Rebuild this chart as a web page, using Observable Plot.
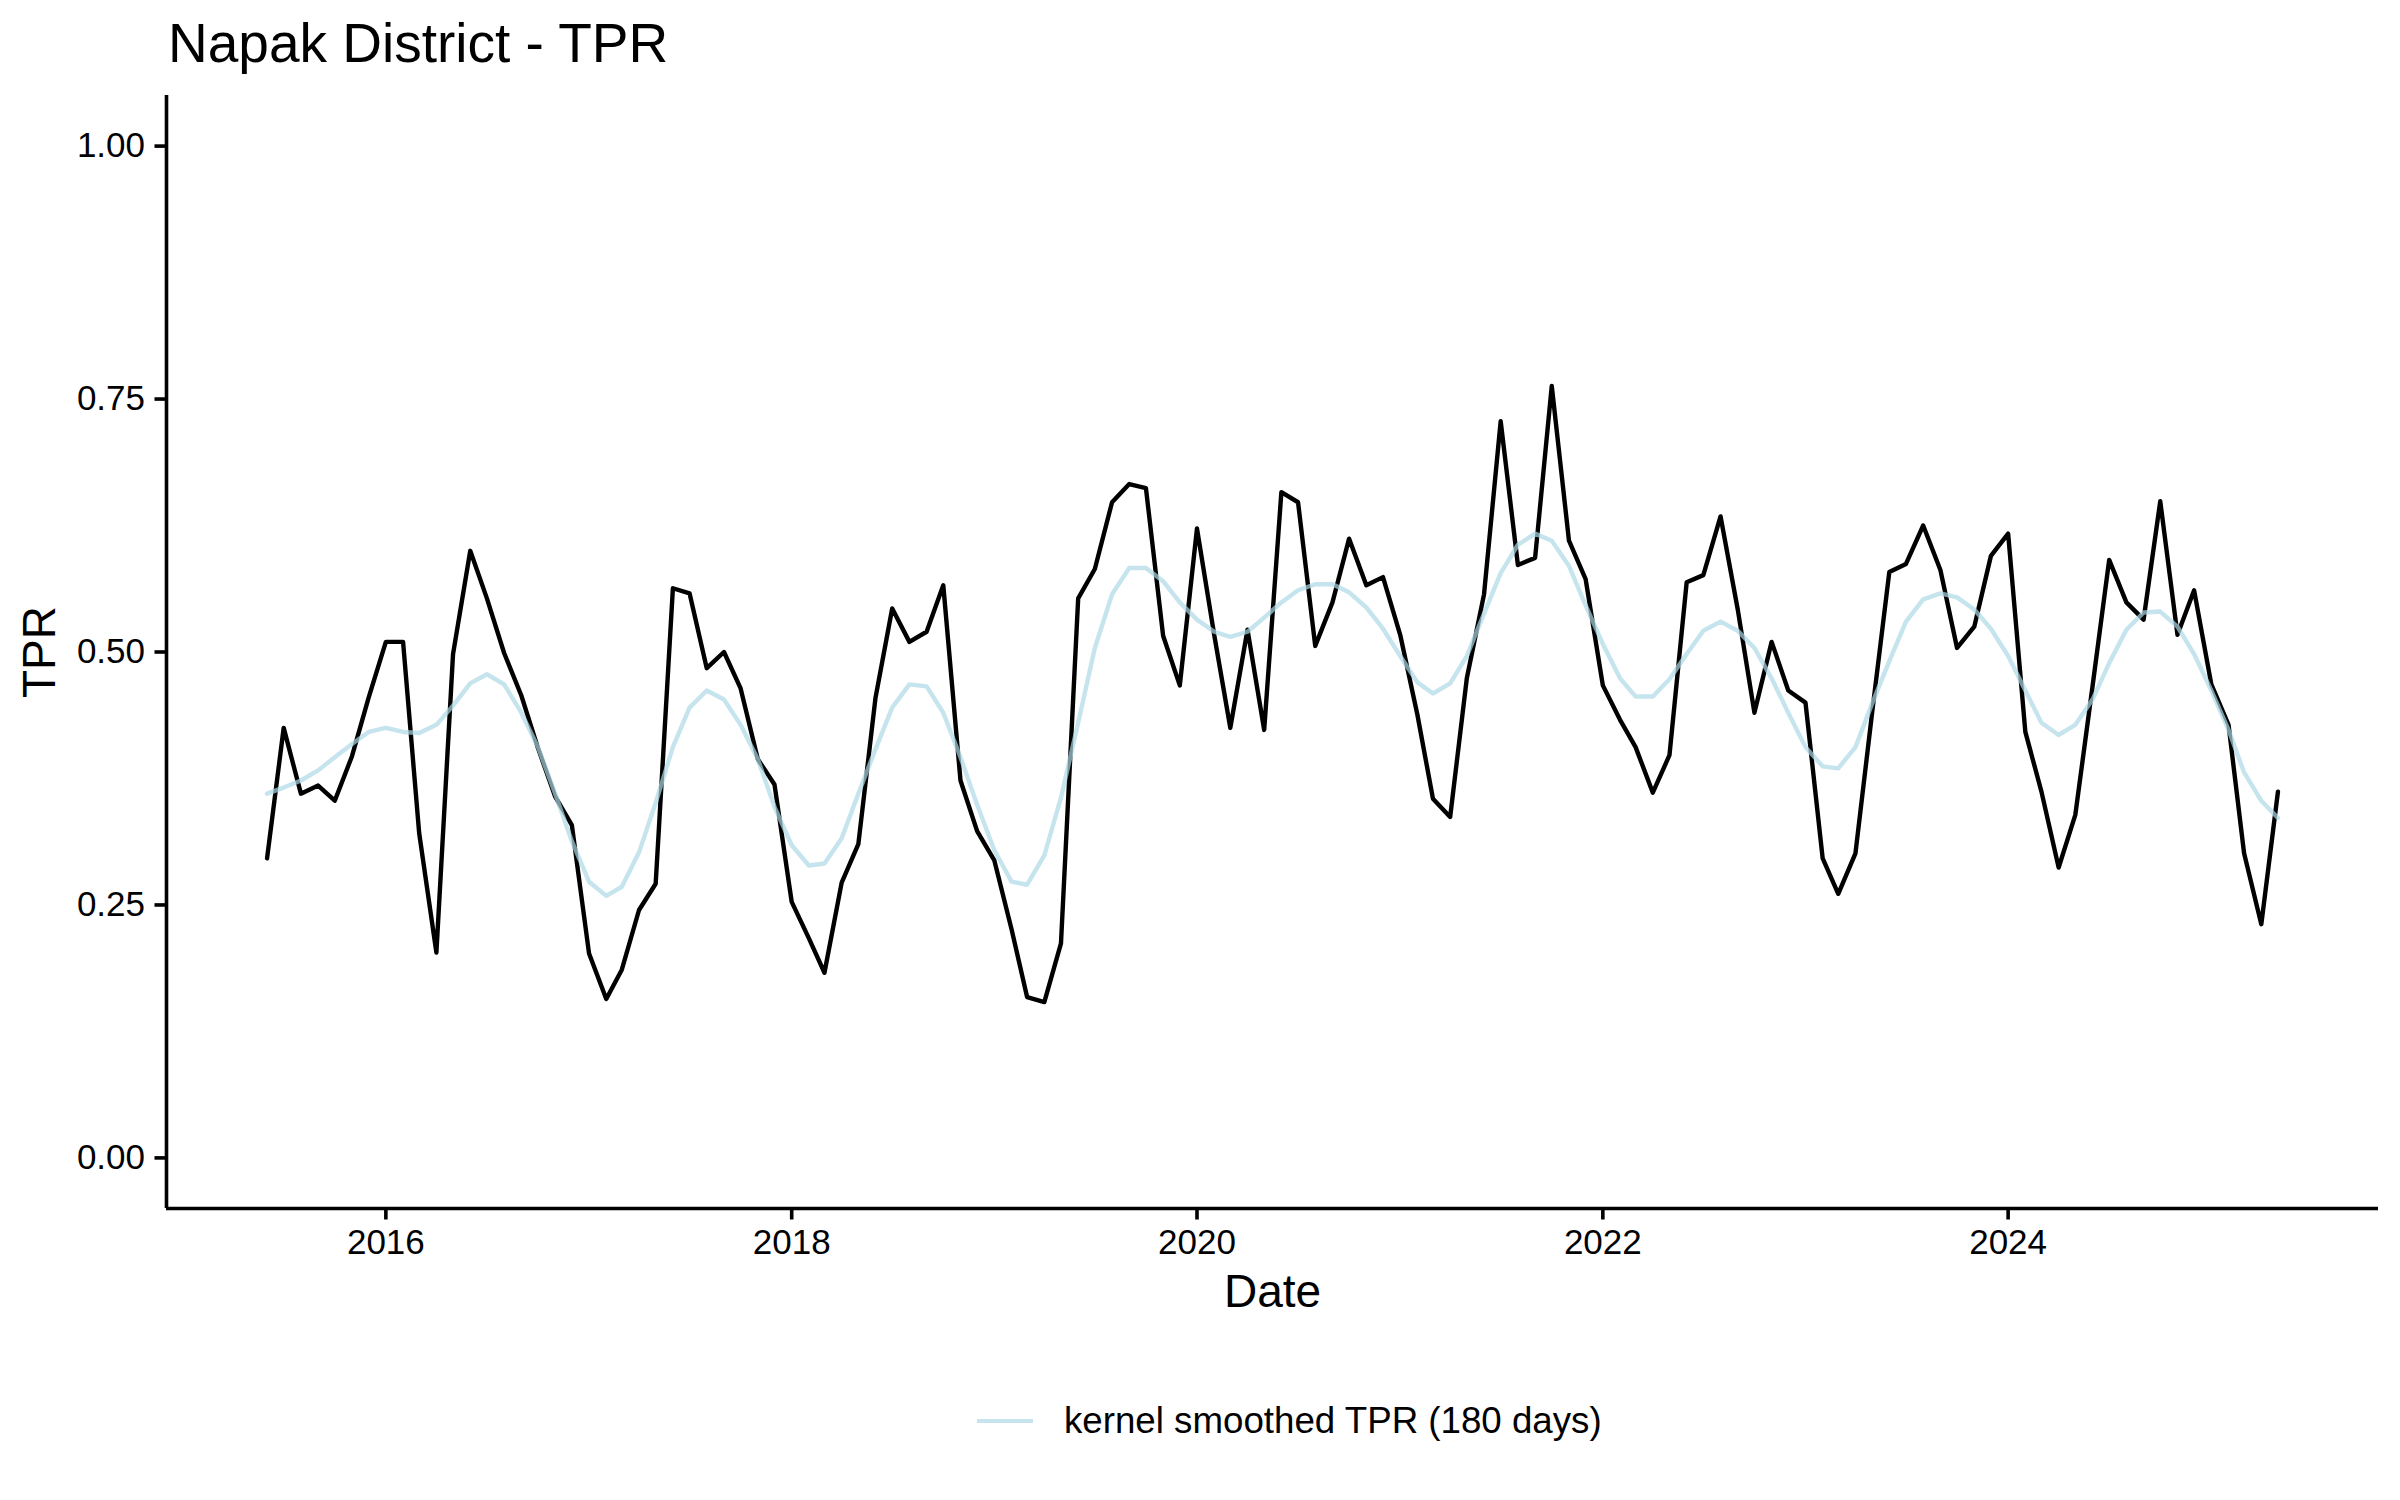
<!DOCTYPE html>
<html>
<head>
<meta charset="utf-8">
<script src="https://cdn.jsdelivr.net/npm/d3@7"></script>
<script src="https://cdn.jsdelivr.net/npm/@observablehq/plot@0.6"></script>
<style>
  body { margin: 0; background: #fff; font-family: "Liberation Sans", Arial, Helvetica, sans-serif; }
  #wrap { position: relative; width: 2400px; height: 1500px; background: #fff; }
  #title { position: absolute; left: 168px; top: 16px; font-size: 55px; line-height: 1; color: #000; white-space: nowrap; }
  #chart { position: absolute; left: 0; top: 80px; }
  #legend { position: absolute; left: 977px; top: 1395px; height: 52px; display: flex; align-items: center; }
  #legend .key { display: inline-block; width: 56px; height: 4px; background: #ADD8E6; opacity: 0.7; }
  #legend .lab { margin-left: 31px; font-size: 36.7px; color: #000; white-space: nowrap; }
</style>
</head>
<body>
<div id="wrap">
  <div id="title"></div>
  <div id="chart"></div>
  <div id="legend"><span class="key"></span><span class="lab"></span></div>
</div>
<script>
// ---- data ----
const titleText = "Napak District - TPR";
const xLabel = "Date";
const yLabel = "TPR";
const legendLabel = "kernel smoothed TPR (180 days)";
const startMonth = "2015-06-01";   // first monthly observation

const tprValues = [
  0.296, 0.425, 0.360, 0.368, 0.353, 0.397, 0.455, 0.510, 0.510, 0.321,
  0.203, 0.498, 0.600, 0.553, 0.499, 0.457, 0.405, 0.357, 0.329, 0.202,
  0.157, 0.186, 0.245, 0.271, 0.563, 0.558, 0.484, 0.500, 0.464, 0.394,
  0.369, 0.253, 0.217, 0.183, 0.272, 0.310, 0.455, 0.543, 0.510, 0.520,
  0.566, 0.373, 0.323, 0.294, 0.226, 0.159, 0.154, 0.212, 0.553, 0.582,
  0.648, 0.666, 0.662, 0.516, 0.467, 0.622, 0.517, 0.425, 0.522, 0.423,
  0.658, 0.648, 0.506, 0.549, 0.612, 0.566, 0.574, 0.517, 0.438, 0.355,
  0.337, 0.474, 0.557, 0.728, 0.586, 0.593, 0.763, 0.610, 0.572, 0.467,
  0.433, 0.406, 0.361, 0.398, 0.569, 0.576, 0.634, 0.542, 0.440, 0.510,
  0.462, 0.450, 0.296, 0.261, 0.301, 0.440, 0.579, 0.587, 0.625, 0.581,
  0.504, 0.525, 0.595, 0.617, 0.421, 0.362, 0.287, 0.339, 0.466, 0.591,
  0.549, 0.532, 0.649, 0.517, 0.561, 0.468, 0.428, 0.301, 0.231, 0.362
];

const smoothValues = [
  0.360, 0.366, 0.373, 0.383, 0.396, 0.409, 0.421, 0.425, 0.421, 0.420,
  0.428, 0.447, 0.469, 0.478, 0.468, 0.440, 0.406, 0.360, 0.313, 0.273,
  0.259, 0.268, 0.302, 0.351, 0.406, 0.445, 0.462, 0.453, 0.428, 0.394,
  0.347, 0.309, 0.289, 0.291, 0.316, 0.360, 0.404, 0.445, 0.468, 0.466,
  0.440, 0.396, 0.349, 0.304, 0.273, 0.270, 0.299, 0.356, 0.430, 0.504,
  0.557, 0.583, 0.583, 0.570, 0.549, 0.532, 0.520, 0.515, 0.520, 0.534,
  0.549, 0.561, 0.567, 0.567, 0.559, 0.544, 0.523, 0.496, 0.470, 0.459,
  0.469, 0.496, 0.538, 0.578, 0.606, 0.617, 0.610, 0.585, 0.546, 0.508,
  0.474, 0.456, 0.456, 0.473, 0.498, 0.521, 0.530, 0.521, 0.504, 0.474,
  0.440, 0.406, 0.387, 0.385, 0.406, 0.449, 0.491, 0.530, 0.552, 0.558,
  0.554, 0.542, 0.523, 0.496, 0.462, 0.430, 0.418, 0.428, 0.453, 0.489,
  0.522, 0.539, 0.540, 0.525, 0.498, 0.462, 0.423, 0.381, 0.353, 0.336
];

const yTicks = [0, 0.25, 0.5, 0.75, 1];
const xTickYears = [2016, 2018, 2020, 2022, 2024];

// ---- build table ----
const start = new Date(startMonth + "T00:00:00Z");
const dates = tprValues.map((_, i) => d3.utcMonth.offset(start, i));
const rows = dates.map((d, i) => ({date: d, tpr: tprValues[i], smooth: smoothValues[i]}));

// ggplot-style 5% expansion
const xExt = d3.extent(dates);
const xPad = (xExt[1] - xExt[0]) * 0.05;
const xDomain = [new Date(+xExt[0] - xPad), new Date(+xExt[1] + xPad)];
const yLim = [0, 1];
const yPad = (yLim[1] - yLim[0]) * 0.05;
const yDomain = [yLim[0] - yPad, yLim[1] + yPad];
const xTicks = xTickYears.map(y => new Date(Date.UTC(y, 0, 1)));

document.getElementById("title").textContent = titleText;
document.querySelector("#legend .lab").textContent = legendLabel;

const chart = Plot.plot({
  width: 2400,
  height: 1260,
  marginLeft: 166,
  marginRight: 22,
  marginTop: 15,
  marginBottom: 132,
  style: {fontFamily: '"Liberation Sans", Arial, Helvetica, sans-serif', background: "white", color: "black"},
  x: {type: "utc", domain: xDomain},
  y: {domain: yDomain},
  marks: [
    Plot.line(rows, {x: "date", y: "tpr", stroke: "black", strokeWidth: 4.4}),
    Plot.line(rows, {x: "date", y: "smooth", stroke: "#ADD8E6", strokeOpacity: 0.7, strokeWidth: 4.4}),
    Plot.ruleX([xDomain[0]], {stroke: "black", strokeWidth: 3.6}),
    Plot.ruleY([yDomain[0]], {stroke: "black", strokeWidth: 3.6}),
    Plot.axisX({ticks: xTicks, tickFormat: d3.utcFormat("%Y"), tickSize: 11.5, tickPadding: 9.5, fontSize: 35, strokeWidth: 3.6, label: null}),
    Plot.axisY({ticks: yTicks, tickFormat: d3.format(".2f"), tickSize: 11.5, tickPadding: 10, fontSize: 35, strokeWidth: 3.6, label: null}),
    Plot.text([yLabel], {text: d => d, frameAnchor: "left", rotate: -90, dx: -126, fontSize: 46, textAnchor: "middle"}),
    Plot.text([xLabel], {text: d => d, frameAnchor: "bottom", dy: 98, fontSize: 46, textAnchor: "middle"})
  ]
});
document.getElementById("chart").appendChild(chart);
</script>
</body>
</html>
